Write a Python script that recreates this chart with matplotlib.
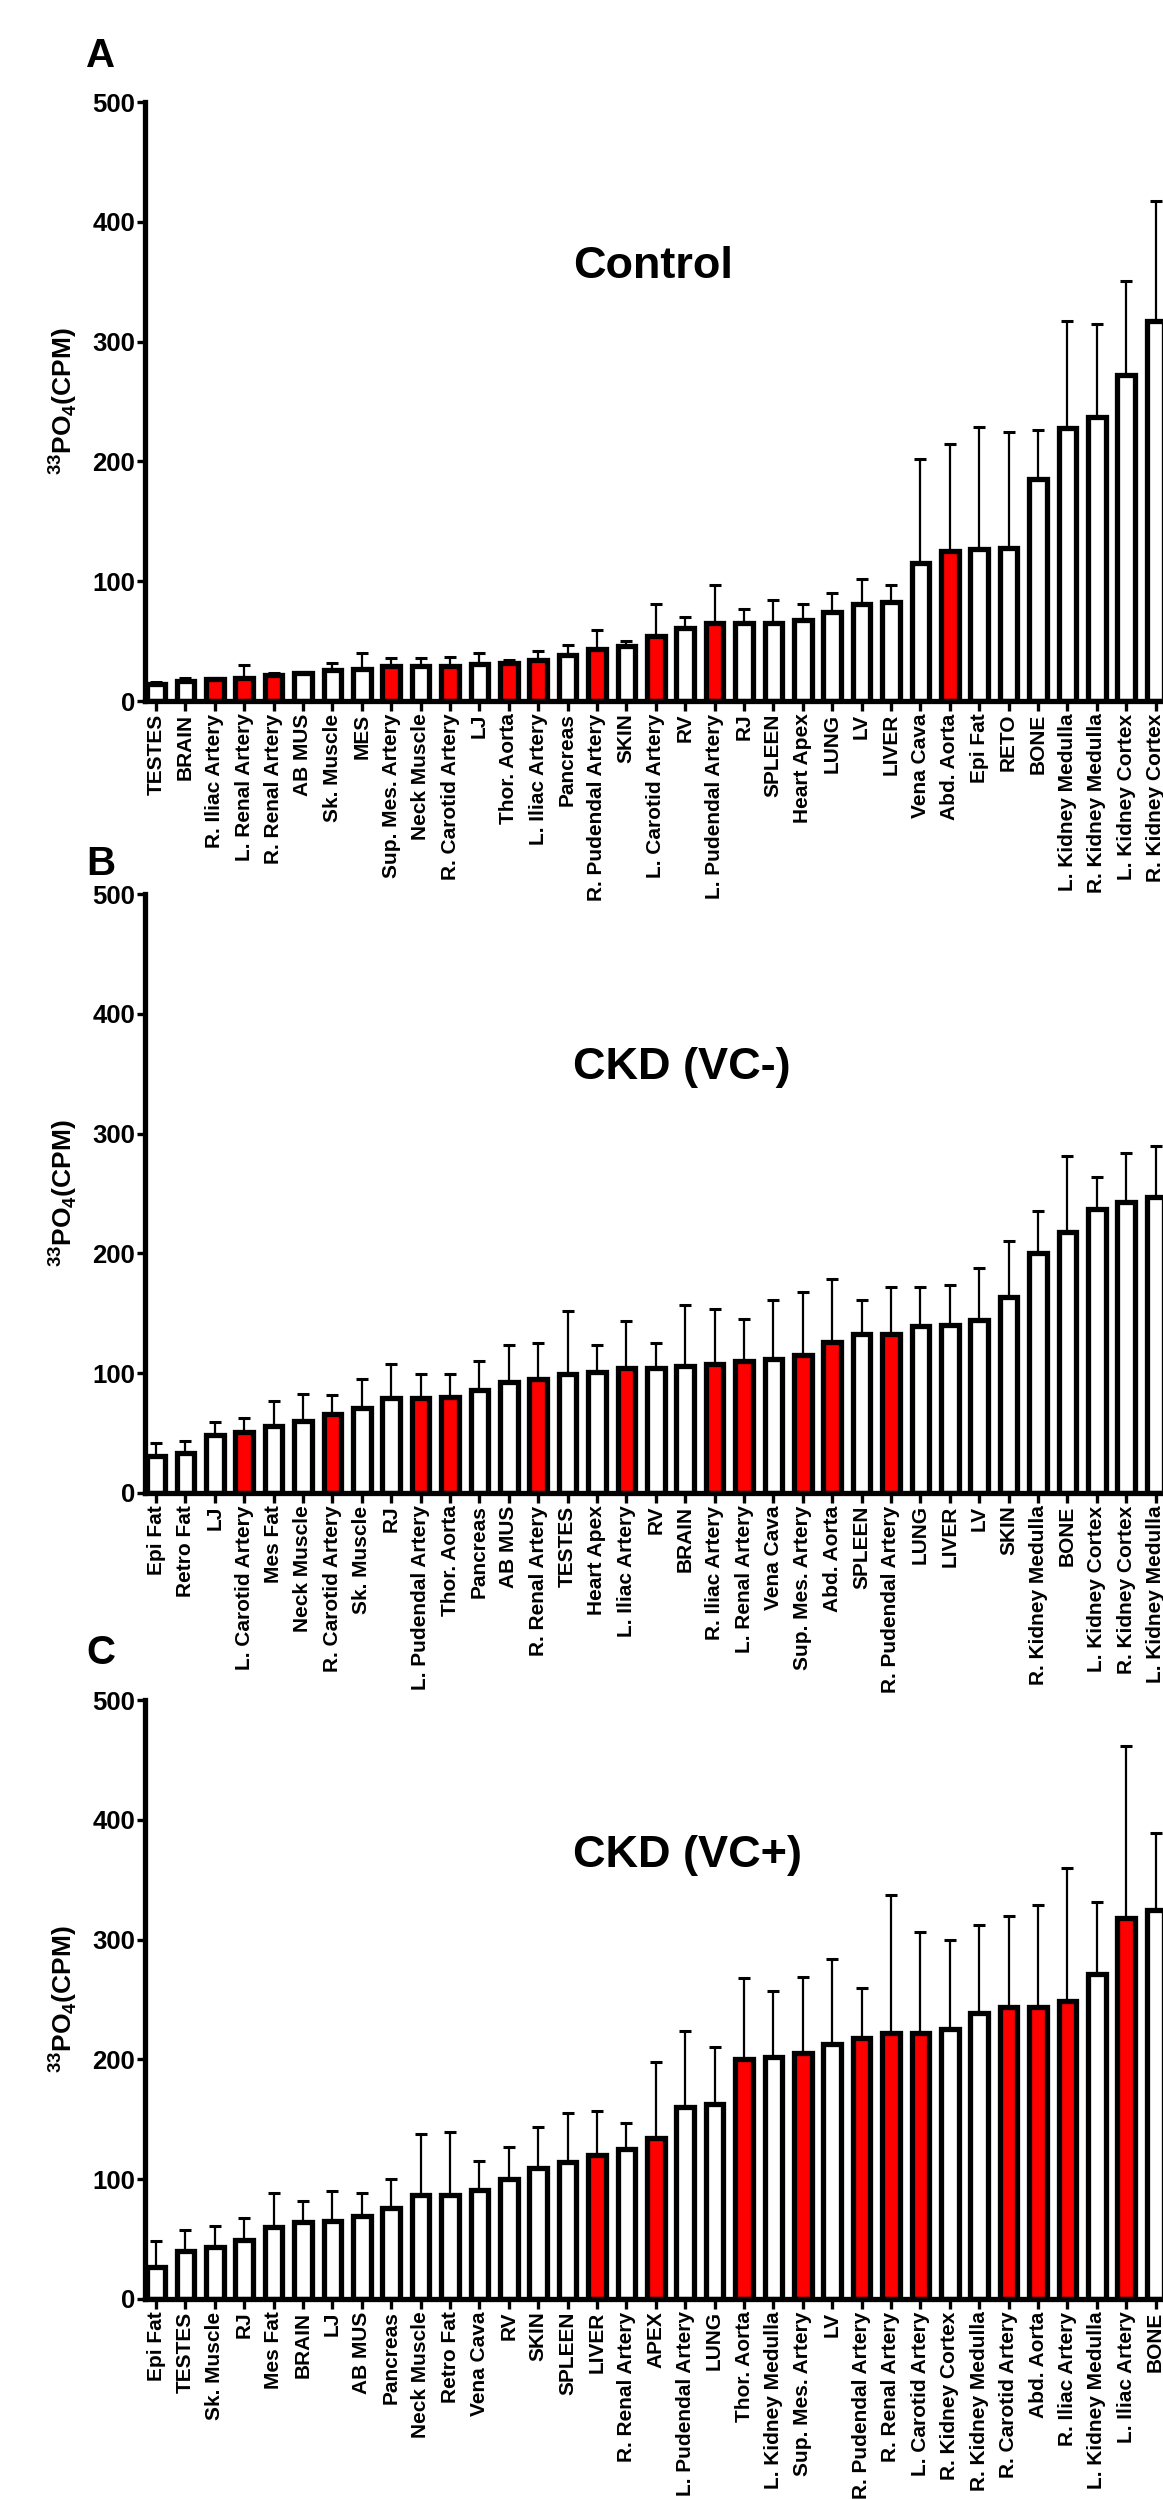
import matplotlib
matplotlib.use("Agg")
import matplotlib.pyplot as plt
import numpy as np

plt.rcParams["font.family"] = ["Liberation Sans", "DejaVu Sans"]
plt.rcParams["font.weight"] = "bold"
plt.rcParams["mathtext.fontset"] = "custom"
plt.rcParams["mathtext.rm"] = "Liberation Sans:bold"
plt.rcParams["mathtext.bf"] = "Liberation Sans:bold"

# ---- A: Control ----
tissues_a = ["TESTES", "BRAIN", "R. Iliac Artery", "L. Renal Artery", "R. Renal Artery",
             "AB MUS", "Sk. Muscle", "MES", "Sup. Mes. Artery", "Neck Muscle",
             "R. Carotid Artery", "LJ", "Thor. Aorta", "L. Iliac Artery", "Pancreas",
             "R. Pudendal Artery", "SKIN", "L. Carotid Artery", "RV", "L. Pudendal Artery",
             "RJ", "SPLEEN", "Heart Apex", "LUNG", "LV", "LIVER", "Vena Cava", "Abd. Aorta",
             "Epi Fat", "RETO", "BONE", "L. Kidney Medulla", "R. Kidney Medulla",
             "L. Kidney Cortex", "R. Kidney Cortex"]
mean_a = [14, 17, 18, 19, 22, 23, 26, 27, 29, 29, 29, 31, 32, 34.5, 38, 43, 46, 54, 61, 65,
          65, 65.5, 68, 74.5, 81, 83, 115, 125, 127, 127.5, 185.5, 228, 237, 272.5, 317]
sem_a = [2, 2, 1, 11, 1, 1, 6, 13, 6.5, 6.5, 8, 9, 2, 7.5, 8.6, 16.5, 4, 27, 9, 32,
         12, 18.5, 13, 16, 20.5, 14, 87, 89.5, 101.5, 97, 41, 89.5, 78, 78, 100.5]
red_a = [2, 3, 4, 8, 10, 12, 13, 15, 17, 19, 27]

# ---- B: CKD (VC-) ----
tissues_b = ["Epi Fat", "Retro Fat", "LJ", "L. Carotid Artery", "Mes Fat", "Neck Muscle",
             "R. Carotid Artery", "Sk. Muscle", "RJ", "L. Pudendal Artery", "Thor. Aorta",
             "Pancreas", "AB MUS", "R. Renal Artery", "TESTES", "Heart Apex",
             "L. Iliac Artery", "RV", "BRAIN", "R. Iliac Artery", "L. Renal Artery",
             "Vena Cava", "Sup. Mes. Artery", "Abd. Aorta", "SPLEEN", "R. Pudendal Artery",
             "LUNG", "LIVER", "LV", "SKIN", "R. Kidney Medulla", "BONE", "L. Kidney Cortex",
             "R. Kidney Cortex", "L. Kidney Medulla"]
mean_b = [31, 33, 48, 51, 56, 60, 66, 71, 79, 79, 80, 86, 93, 95, 99, 101, 104, 104, 106,
          108, 110, 112, 115, 126, 133, 133, 139, 140, 144, 164, 200, 218, 237, 243, 247]
sem_b = [10.5, 10.5, 11, 12, 21, 23, 15.5, 24, 29, 20, 19, 24, 30.5, 30.5, 53, 22.5, 39.5,
         21.5, 51, 46, 35.5, 49, 53, 52.5, 28, 39, 33, 34, 44, 46, 35, 63, 27, 41, 43]
red_b = [3, 6, 9, 10, 13, 16, 19, 20, 22, 23, 25]

# ---- C: CKD (VC+) ----
tissues_c = ["Epi Fat", "TESTES", "Sk. Muscle", "RJ", "Mes Fat", "BRAIN", "LJ", "AB MUS",
             "Pancreas", "Neck Muscle", "Retro Fat", "Vena Cava", "RV", "SKIN", "SPLEEN",
             "LIVER", "R. Renal Artery", "APEX", "L. Pudendal Artery", "LUNG", "Thor. Aorta",
             "L. Kidney Medulla", "Sup. Mes. Artery", "LV", "R. Pudendal Artery",
             "R. Renal Artery", "L. Carotid Artery", "R. Kidney Cortex", "R. Kidney Medulla",
             "R. Carotid Artery", "Abd. Aorta", "R. Iliac Artery", "L. Kidney Medulla",
             "L. Iliac Artery", "BONE"]
mean_c = [27, 40, 43, 49, 60, 64, 65, 69, 76, 86.5, 86.5, 91, 100, 109, 114, 120, 125, 134,
          160, 163, 200, 202, 205, 213, 218, 222, 222, 225, 239, 244, 244, 248.5, 271, 318, 325]
sem_c = [21, 17.5, 18, 19, 28.5, 17.5, 25.5, 19.5, 24, 51, 53, 24.5, 26.5, 34.5, 41, 37,
         21.5, 63.5, 64, 47, 68, 55.5, 64, 71, 41.5, 115.5, 84.5, 75, 73.5, 75.5, 85, 111,
         60, 144, 64]
red_c = [15, 17, 20, 22, 24, 25, 26, 29, 30, 31, 33]

panels = [
    ("A", "Control", tissues_a, mean_a, sem_a, red_a),
    ("B", "CKD (VC-)", tissues_b, mean_b, sem_b, red_b),
    ("C", "CKD (VC+)", tissues_c, mean_c, sem_c, red_c),
]

W, H = 1163, 2499
fig = plt.figure(figsize=(W / 100, H / 100), dpi=100)

# pixel layout of each panel: (y of 500 line, y of 0 line, title y, letter y)
rows = [(102, 701, 266, 56), (894, 1493, 1067, 864), (1700, 2299, 1856, 1653)]
x_axis = 145
pitch = 29.4
x_first = 156

for (letter, title, names, means, sems, reds), (ytop, ybot, ytit, ylet) in zip(panels, rows):
    n = len(names)
    x0 = -(x_first - x_axis) / pitch
    x1 = 34.7
    ax = fig.add_axes([x_axis / W, 1 - ybot / H, (x1 - x0) * pitch / W, (ybot - ytop) / H])
    ax.patch.set_visible(False)
    x = np.arange(n)
    colors = ["#ff0000" if i in reds else "white" for i in range(n)]
    ax.errorbar(x, means, yerr=[np.zeros(n), sems], fmt="none", ecolor="black",
                elinewidth=1.6, capsize=4, capthick=2.2, zorder=1)
    ax.bar(x, means, width=0.6, color=colors, edgecolor="black", linewidth=3.8, zorder=2)
    ax.set_xlim(x0, x1)
    ax.set_ylim(0, 500)
    ax.set_yticks(range(0, 501, 100))
    ax.set_xticks(x)
    ax.set_xticklabels(names, rotation=90, fontsize=15, fontweight="bold")
    for t in ax.get_yticklabels():
        t.set_fontsize(18.5)
        t.set_fontweight("bold")
    for s in ["top", "right"]:
        ax.spines[s].set_visible(False)
    for s in ["left", "bottom"]:
        ax.spines[s].set_linewidth(3.8)
    ax.tick_params(axis="x", length=7, width=2.4, pad=2)
    ax.tick_params(axis="y", length=6, width=2.4, pad=1)

    fig.text(573 / W, 1 - ytit / H, title, fontsize=32.5, fontweight="bold",
             ha="left", va="center")
    fig.text(86 / W, 1 - ylet / H, letter, fontsize=29, fontweight="bold",
             ha="left", va="center")
    fig.text(63 / W, 1 - (ytop + ybot) / 2 / H, r"$^{\mathbf{33}}$PO$_{\mathbf{4}}$(CPM)",
             fontsize=19, fontweight="bold", rotation=90, ha="center", va="center")

fig.savefig("out.png", dpi=100)
